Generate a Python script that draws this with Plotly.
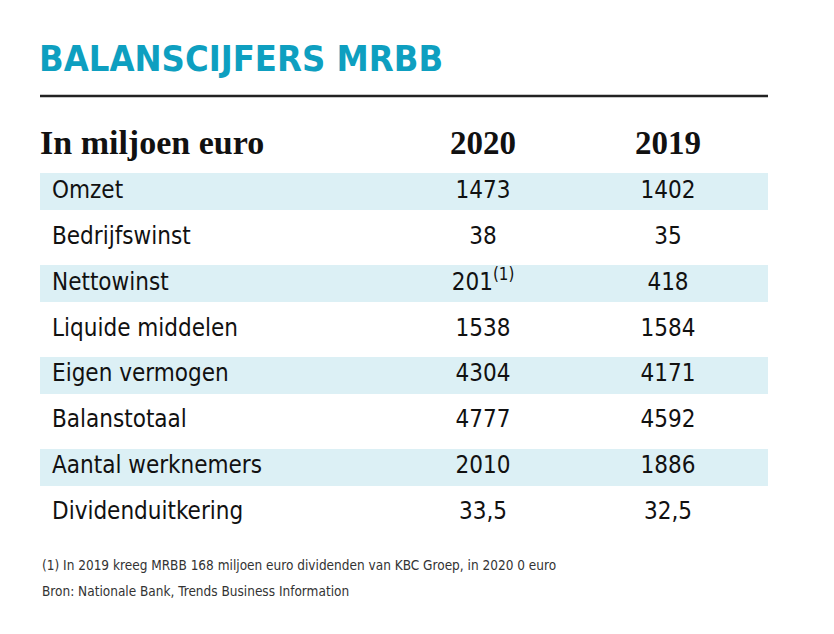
import plotly.graph_objects as go

title = "BALANSCIJFERS MRBB"
header_label = "In miljoen euro"
years = ["2020", "2019"]
categories = ["Omzet", "Bedrijfswinst", "Nettowinst", "Liquide middelen",
              "Eigen vermogen", "Balanstotaal", "Aantal werknemers", "Dividenduitkering"]
values_2020 = [1473, 38, 201, 1538, 4304, 4777, 2010, 33.5]
values_2019 = [1402, 35, 418, 1584, 4171, 4592, 1886, 32.5]
footnote_marks_2020 = ["", "", "(1)", "", "", "", "", ""]
footnotes = ["(1) In 2019 kreeg MRBB 168 miljoen euro dividenden van KBC Groep, in 2020 0 euro",
             "Bron: Nationale Bank, Trends Business Information"]


def fmt(v):
    if float(v).is_integer():
        return str(int(v))
    return str(v).replace(".", ",")


SANS = "DejaVu Sans Condensed, Liberation Sans Narrow, Roboto, sans-serif"
SERIF = "Liberation Serif, DejaVu Serif, serif"
SHADE = "#dcf0f5"
CYAN = "#0e9fc0"

# page offset of the browser (body margin) is compensated in the margins
OFF = 8
PLOT_TOP = 123      # screen px
PLOT_BOTTOM = 536   # screen px
PLOT_H = PLOT_BOTTOM - PLOT_TOP

rows = list(range(1, len(categories) + 1))
x_label = 12 / 728
x_2020 = (483 - 40) / 728
x_2019 = (668 - 40) / 728

txt_2020 = [fmt(v) + (f"<sup>{m}</sup>" if m else "") for v, m in zip(values_2020, footnote_marks_2020)]
txt_2019 = [fmt(v) for v in values_2019]

fig = go.Figure()

# row shading
fig.add_trace(go.Bar(
    orientation="h",
    y=rows,
    x=[1] * len(rows),
    base=0,
    width=0.805,
    marker=dict(color=[SHADE if i % 2 == 0 else "rgba(0,0,0,0)" for i in range(len(rows))],
                line=dict(width=0)),
    hoverinfo="skip",
    showlegend=False,
))

# header row
fig.add_trace(go.Scatter(
    x=[0], y=[0], mode="text", text=[f"<b>{header_label}</b>"], textposition="middle right",
    textfont=dict(family=SERIF, size=34, color="#111111"), showlegend=False, hoverinfo="skip"))
fig.add_trace(go.Scatter(
    x=[x_2020, x_2019], y=[0, 0], mode="text", text=[f"<b>{y}</b>" for y in years],
    textposition="middle center",
    textfont=dict(family=SERIF, size=33, color="#111111"), showlegend=False, hoverinfo="skip"))

# labels
fig.add_trace(go.Scatter(
    x=[x_label] * len(rows), y=rows, mode="text", text=categories, textposition="middle right",
    textfont=dict(family=SANS, size=24, color="#111111"), showlegend=False, hoverinfo="skip"))
# values
fig.add_trace(go.Scatter(
    x=[x_2020] * len(rows), y=rows, mode="text", text=txt_2020, textposition="middle center",
    textfont=dict(family=SANS, size=24, color="#111111"), showlegend=False, hoverinfo="skip"))
fig.add_trace(go.Scatter(
    x=[x_2019] * len(rows), y=rows, mode="text", text=txt_2019, textposition="middle center",
    textfont=dict(family=SANS, size=24, color="#111111"), showlegend=False, hoverinfo="skip"))

fig.update_layout(
    width=834, height=634,
    margin=dict(l=40 - OFF, r=66 + OFF, t=PLOT_TOP - OFF, b=634 - PLOT_BOTTOM + OFF),
    paper_bgcolor="white", plot_bgcolor="white",
    xaxis=dict(range=[0, 1], visible=False, fixedrange=True),
    yaxis=dict(range=[len(rows) + 0.5, -0.5], visible=False, fixedrange=True),
    bargap=0,
    annotations=[
        dict(text=f"<b>{title}</b>", xref="paper", yref="paper", x=0, y=1,
             xanchor="left", yanchor="middle", xshift=-3, yshift=(PLOT_TOP - 58), showarrow=False,
             font=dict(family=SANS, size=36, color=CYAN)),
        dict(text=footnotes[0], xref="paper", yref="paper", x=0, y=0, xanchor="left", yanchor="middle",
             yshift=-(565 - PLOT_BOTTOM), showarrow=False, font=dict(family=SANS, size=13.5, color="#333333")),
        dict(text=footnotes[1], xref="paper", yref="paper", x=0, y=0, xanchor="left", yanchor="middle",
             yshift=-(591 - PLOT_BOTTOM), showarrow=False, font=dict(family=SANS, size=13.5, color="#333333")),
    ],
    shapes=[dict(type="line", xref="paper", yref="paper", x0=0, x1=1,
                 y0=1 + (PLOT_TOP - 96) / PLOT_H, y1=1 + (PLOT_TOP - 96) / PLOT_H,
                 line=dict(color="#222222", width=2.5))],
)

fig.write_html("out.html")
